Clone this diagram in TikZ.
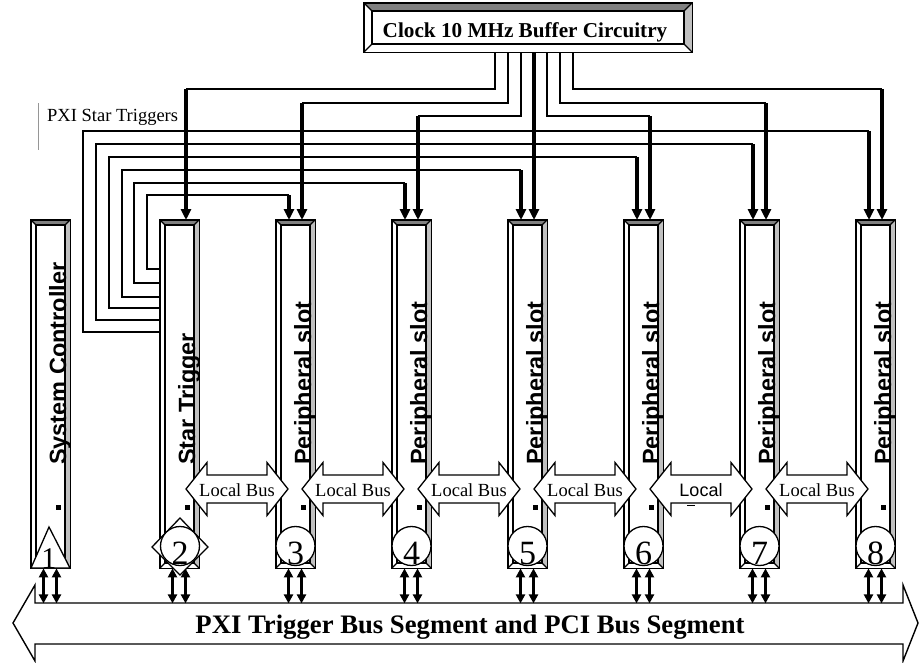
\documentclass[tikz,border=0pt]{standalone}
\usepackage{fontspec}
\setmainfont{Liberation Serif}
\setsansfont{Liberation Sans}
\usetikzlibrary{arrows.meta,calc}
\definecolor{bevdark}{RGB}{128,128,128}
\definecolor{bevlight}{RGB}{192,192,192}
\definecolor{noteline}{RGB}{150,150,150}
\begin{document}
\begin{tikzpicture}[x=1pt,y=-1pt,
  outl/.style={draw=black,line width=1.3pt},
  thinln/.style={line width=1.3pt},
  clkln/.style={line width=1.8pt},
  droparrow/.style={line width=3.2pt,-{Triangle[length=11pt,width=10pt]}},
  bidir/.style={line width=3pt,{Triangle[length=9pt,width=9pt]}-{Triangle[length=9pt,width=9pt]}},
  slottext/.style={rotate=90,anchor=base west,inner sep=0,font=\sffamily\bfseries\fontsize{23.5}{24}\selectfont},
  digit/.style={anchor=base,inner sep=0,font=\fontsize{34}{36}\selectfont},
  lbtext/.style={anchor=base,inner sep=0,font=\fontsize{18.5}{20}\selectfont},
  marker/.style={outl,fill=white},
]
\useasboundingbox (0,0) rectangle (919,662);

% clock box
\node[minimum width=328pt,minimum height=49pt,inner sep=0,anchor=north west] (clock) at (364,3) {};
\fill[bevdark] (364,3) -- (692,3) -- (684,11) -- (372,11) -- cycle;
\fill[bevlight] (692,3) -- (692,52) -- (684,44) -- (684,11) -- cycle;
\draw[outl] (372,11) rectangle (684,44);
\draw[outl] (364,3) -- (372,11) (692,3) -- (684,11) (364,52) -- (372,44) (692,52) -- (684,44);
\draw[outl] (clock.north west) rectangle (clock.south east);
\node[anchor=base,inner sep=0,font=\bfseries\fontsize{21.2}{23}\selectfont] (clocktext) at (525,37) {Clock 10 MHz Buffer Circuitry};

% slots
\foreach \i/\L in {1/31,2/160,3/276,4/392,5/508,6/624,7/740,8/856}{
  \node[minimum width=39pt,minimum height=348pt,inner sep=0,anchor=north west] (s\i) at (\L,220) {};
  \fill[bevdark] (\L,220) -- ++(39,0) -- ++(-5,5) -- ++(-29,0) -- cycle;
  \fill[bevlight] (\L+39,220) -- ++(0,348) -- ++(-5,-5) -- ++(0,-338) -- cycle;
  \draw[outl] (\L+5,225) rectangle (\L+34,563);
  \draw[outl] (\L,220) -- ++(5,5) (\L+39,220) -- ++(-5,5) (\L,568) -- ++(5,-5) (\L+39,568) -- ++(-5,-5);
  \draw[outl] (s\i.north west) rectangle (s\i.south east);
  \fill (\L+24.5,504.5) rectangle ++(5,5);
}
\node[slottext] (t1) at (66,465) {System Controller};
\node[slottext] (t2) at (195,465) {Star Trigger};
\foreach \i/\L in {3/276,4/392,5/508,6/624,7/740,8/856}{
  \node[slottext] (t\i) at (\L+35,465) {Peripheral slot};
}

% number markers
\draw[marker] (31,568) -- (49,527) -- (70,568) -- cycle;
\node[digit,font=\fontsize{30}{32}\selectfont] (n1) at (49,568) {1};
\draw[marker] (152,547) -- (180,518) -- (208,547) -- (180,575) -- cycle;
\draw[marker] (180,546) circle[radius=19.5];
\node[digit] (n2) at (180,564) {2};
\foreach \i/\L in {3/276,4/392,5/508,6/624,7/740,8/856}{
  \draw[marker] (\L+19.5,546) circle[radius=19.5];
  \node[digit] (n\i) at (\L+19.5,564) {\i};
}

% local bus arrows
\foreach \j/\xa in {1/186,2/302,3/418,4/534,5/650,6/766}{
  \draw[outl,fill=white] (\xa,489) -- (\xa+21,462.5) -- (\xa+21,475) -- (\xa+81,475) -- (\xa+81,462.5)
    -- (\xa+102,489) -- (\xa+81,515.5) -- (\xa+81,503) -- (\xa+21,503) -- (\xa+21,515.5) -- cycle;
}
\foreach \j/\xa in {1/186,2/302,3/418,4/534,6/766}{
  \node[lbtext] (lb\j) at (\xa+51,496) {Local Bus};
}
\node[anchor=base,inner sep=0,font=\sffamily\fontsize{18}{20}\selectfont] (lb5) at (701,496) {Local};
\draw[line width=1pt] (687,505) -- (695,505);

% clock routes
\foreach \k/\dx/\ty/\s in {1/495/89/2,2/508/103/3,3/521/116/4,5/547/116/6,6/560/103/7,7/573/89/8}{
  \coordinate (d\k) at ($(clock.south west)+(\dx-364,0)$);
  \coordinate (e\k) at ($(s\s.north west)+(26,0)$);
  \coordinate (k\k) at ($(e\k)+(0,\ty-220)$);
  \draw[clkln] (d\k) |- (k\k);
  \draw[droparrow] (k\k) -- (e\k);
}
\coordinate (d4) at ($(clock.south west)+(170,0)$);
\coordinate (e4) at ($(s5.north west)+(26,0)$);
\draw[droparrow] (d4) -- (e4);

% star trigger routes
\foreach \s/\yb/\xl/\yt in {3/269/147/195,4/283/134/183,5/297/122/170,6/308/109/157,7/320/96/144,8/332/83/131}{
  \coordinate (p\s) at ($(s2.north west)+(0,\yb-220)$);
  \coordinate (f\s) at ($(s\s.north west)+(13,0)$);
  \coordinate (g\s) at ($(f\s)+(0,\yt-220)$);
  \draw[thinln] (p\s) -- (\xl,\yb) -- (\xl,\yt) -- (g\s);
  \draw[droparrow] (g\s) -- (f\s);
}
\node[anchor=base west,inner sep=0,font=\fontsize{18.5}{20}\selectfont] (pst) at (47,121) {PXI Star Triggers};
\draw[noteline,line width=1pt] (38,103) -- (38,150);

% bus
\draw[outl,line width=1.4pt,fill=white] (13,623) -- (35,585) -- (35,603) -- (903,603) -- (903,585) -- (918,623)
  -- (903,661) -- (903,644) -- (35,644) -- (35,661) -- cycle;
\node[anchor=base,inner sep=0,font=\bfseries\fontsize{26.7}{28}\selectfont] (bustext) at (470,633) {PXI Trigger Bus Segment and PCI Bus Segment};
\foreach \i in {1,...,8}{
  \draw[bidir] ($(s\i.south west)+(12.5,0)$) -- ($(s\i.south west)+(12.5,35)$);
  \draw[bidir] ($(s\i.south west)+(25.5,0)$) -- ($(s\i.south west)+(25.5,35)$);
}
\end{tikzpicture}
\end{document}
